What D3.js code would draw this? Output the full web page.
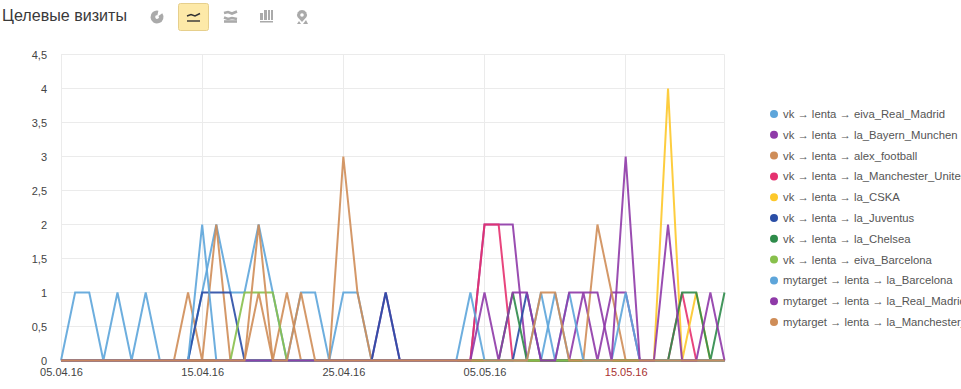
<!DOCTYPE html>
<html>
<head>
<meta charset="utf-8">
<script src="https://cdn.jsdelivr.net/npm/d3@7"></script>
<style>
html, body { margin: 0; padding: 0; background: #fff; overflow: hidden; }
svg { display: block; font-family: "Liberation Sans", Arial, sans-serif; }
</style>
</head>
<body>
<svg width="961" height="389"></svg>
<script>
var days = ["05.04.16","06.04.16","07.04.16","08.04.16","09.04.16","10.04.16","11.04.16","12.04.16","13.04.16","14.04.16",
  "15.04.16","16.04.16","17.04.16","18.04.16","19.04.16","20.04.16","21.04.16","22.04.16","23.04.16","24.04.16",
  "25.04.16","26.04.16","27.04.16","28.04.16","29.04.16","30.04.16","01.05.16","02.05.16","03.05.16","04.05.16",
  "05.05.16","06.05.16","07.05.16","08.05.16","09.05.16","10.05.16","11.05.16","12.05.16","13.05.16","14.05.16",
  "15.05.16","16.05.16","17.05.16","18.05.16","19.05.16","20.05.16","21.05.16","22.05.16"];

var xTicks = ["05.04.16","15.04.16","25.04.16","05.05.16","15.05.16"];
var yTicks = [0,0.5,1,1.5,2,2.5,3,3.5,4,4.5];

var vkEivaReal     = [0,1,1,0,1,0,1,0,0,0, 1,2,1,1,2,1,0,1,1,0, 1,1,0,0,0,0,0,0,0,0, 0,0,0,0,0,1,0,0,0,0, 0,0,0,0,0,0,0,0];
var vkBayern       = [0,0,0,0,0,0,0,0,0,0, 0,0,0,0,0,0,0,0,0,0, 0,0,0,1,0,0,0,0,0,0, 2,2,2,0,0,0,0,1,0,1, 1,0,0,0,0,0,0,0];
var vkAlex         = [0,0,0,0,0,0,0,0,0,1, 0,2,0,0,1,0,1,0,0,0, 3,1,0,0,0,0,0,0,0,0, 0,0,0,0,0,0,0,0,2,1, 0,0,0,0,0,0,0,0];
var vkManUtd       = [0,0,0,0,0,0,0,0,0,0, 0,0,0,0,0,0,0,0,0,0, 0,0,0,0,0,0,0,0,0,0, 2,2,0,0,0,0,0,0,0,0, 0,0,0,0,1,0,0,0];
var vkCska         = [0,0,0,0,0,0,0,0,0,0, 0,0,0,0,0,0,0,0,0,0, 0,0,0,0,0,0,0,0,0,0, 0,0,0,0,0,0,0,0,0,0, 0,0,0,4,0,1,0,0];
var vkJuventus     = [0,0,0,0,0,0,0,0,0,0, 1,1,1,0,0,0,0,0,0,0, 0,0,0,1,0,0,0,0,0,0, 0,0,0,1,0,0,0,0,0,0, 0,0,0,0,0,0,0,0];
var vkChelsea      = [0,0,0,0,0,0,0,0,0,0, 0,0,0,0,0,0,0,0,0,0, 0,0,0,0,0,0,0,0,0,0, 0,0,1,0,0,0,0,0,0,0, 0,0,0,0,1,1,0,1];
var vkEivaBarca    = [0,0,0,0,0,0,0,0,0,0, 0,0,0,1,1,1,0,0,0,0, 0,0,0,0,0,0,0,0,0,0, 0,0,0,0,0,0,0,0,0,0, 0,0,0,0,0,0,0,0];
var myBarca        = [0,0,0,0,0,0,0,0,0,0, 2,0,0,0,0,0,0,0,0,0, 0,0,0,0,0,0,0,0,0,1, 0,0,0,0,1,0,1,0,0,0, 1,0,0,0,0,0,0,0];
var myReal         = [0,0,0,0,0,0,0,0,0,0, 0,0,0,0,0,0,0,0,0,0, 0,0,0,0,0,0,0,0,0,0, 1,0,1,1,0,0,1,1,1,0, 3,0,0,2,0,0,1,0];
var myManchester   = [0,0,0,0,0,0,0,0,0,0, 0,0,0,0,2,0,0,1,0,0, 0,0,0,0,0,0,0,0,0,0, 0,0,0,0,1,1,0,0,0,0, 0,0,0,0,0,0,0,0];

var seriesNames = [
  "vk → lenta → eiva_Real_Madrid",
  "vk → lenta → la_Bayern_Munchen",
  "vk → lenta → alex_football",
  "vk → lenta → la_Manchester_United",
  "vk → lenta → la_CSKA",
  "vk → lenta → la_Juventus",
  "vk → lenta → la_Chelsea",
  "vk → lenta → eiva_Barcelona",
  "mytarget → lenta → la_Barcelona",
  "mytarget → lenta → la_Real_Madrid",
  "mytarget → lenta → la_Manchester_United"
];
var seriesValues = [vkEivaReal, vkBayern, vkAlex, vkManUtd, vkCska, vkJuventus, vkChelsea, vkEivaBarca, myBarca, myReal, myManchester];
var seriesColors = ["#5da5da","#8f3aa8","#cf8d58","#e5316f","#fdc82a","#2a4ea6","#2e8b4a","#88c04c","#5da5da","#8f3aa8","#cf8d58"];

var svg = d3.select("svg");

var x = d3.scalePoint().domain(days).range([61, 724.5]);
var y = d3.scaleLinear().domain([0, 4.5]).range([360.5, 54.5]);

// grid
var grid = svg.append("g").attr("stroke", "#ebebeb").attr("stroke-width", 1);
grid.selectAll(".h").data(yTicks).enter().append("line")
    .attr("x1", 61).attr("x2", 724.5)
    .attr("y1", function(d) { return Math.floor(y(d)) + 0.5; })
    .attr("y2", function(d) { return Math.floor(y(d)) + 0.5; });
grid.selectAll(".v").data(xTicks.concat([days[days.length - 1]])).enter().append("line")
    .attr("x1", function(d) { return Math.floor(x(d)) + 0.5; })
    .attr("x2", function(d) { return Math.floor(x(d)) + 0.5; })
    .attr("y1", 54.5).attr("y2", 360.5);

// axes
var yAxis = svg.append("g")
    .attr("transform", "translate(47,0)")
    .call(d3.axisLeft(y).tickValues(yTicks).tickSize(0).tickPadding(0)
      .tickFormat(function(d) { return String(d).replace(".", ","); }));
yAxis.select(".domain").remove();
yAxis.selectAll("text").attr("fill", "#444").attr("font-size", 11).attr("font-family", "Liberation Sans");

var xAxis = svg.append("g")
    .attr("transform", "translate(0,360)")
    .call(d3.axisBottom(x).tickValues(xTicks).tickSize(0).tickPadding(8));
xAxis.select(".domain").remove();
xAxis.selectAll("text")
    .attr("fill", function(d) { return d == "15.05.16" ? "#a83232" : "#444"; })
    .attr("font-size", 11).attr("font-family", "Liberation Sans");

// lines
var line = d3.line()
    .x(function(d, i) { return x(days[i]); })
    .y(function(d) { return y(d); });

svg.append("g").selectAll("path").data(seriesValues).enter().append("path")
    .attr("fill", "none")
    .attr("stroke", function(d, i) { return seriesColors[i]; })
    .attr("stroke-width", 2)
    .attr("stroke-opacity", 0.9)
    .attr("stroke-linejoin", "miter")
    .attr("d", line);

// legend, long names run off the right edge as in the original
var legend = svg.append("g").selectAll("g").data(seriesNames).enter().append("g")
    .attr("transform", function(d, i) { return "translate(774," + (114 + i * 20.8) + ")"; });
legend.append("circle").attr("r", 4)
    .attr("fill", function(d, i) { return seriesColors[i]; });
legend.append("text")
    .attr("x", 9).attr("dy", "0.35em")
    .attr("font-size", 11.3).attr("fill", "#555")
    .text(function(d) { return d; });

// header
svg.append("text").attr("x", 2).attr("y", 21)
    .attr("font-size", 16.1).attr("fill", "#3a3a3a")
    .attr("font-family", "Liberation Sans")
    .text("Целевые визиты");

svg.append("rect").attr("x", 178.5).attr("y", 3.5).attr("width", 30).attr("height", 27).attr("rx", 2)
    .attr("fill", "#fde9a8").attr("stroke", "#e6cf8c");

var icons = svg.append("g").attr("fill", "#aaa").attr("stroke", "none");
// pie
icons.append("path").attr("transform", "translate(157,17)")
    .attr("d", d3.arc().innerRadius(1.8).outerRadius(6.5).startAngle(0.95).endAngle(6.5)());
// line (selected)
var lineIcon = svg.append("g").attr("fill", "none").attr("stroke", "#333").attr("stroke-width", 1.4);
lineIcon.append("path").attr("d", "M187,16l4,-1.5l4,1.5l5,-2.5");
lineIcon.append("path").attr("d", "M187,21h13");
// stacked
var stackIcon = svg.append("g").attr("fill", "none").attr("stroke", "#aaa").attr("stroke-width", 2.6);
stackIcon.append("path").attr("d", "M224,13l4,-1l4,1.5l5,-2");
stackIcon.append("path").attr("d", "M224,17.5l4,1.5l4,-1l5,1");
stackIcon.append("path").attr("d", "M224,21.5h13");
// bars
[[260,13,3,7],[264,10,3,10],[268,10,2,10],[271,10,2,10],[260,21,13,1.5]].forEach(function(b) {
  icons.append("rect").attr("x", b[0]).attr("y", b[1]).attr("width", b[2]).attr("height", b[3]);
});
// map pin
icons.append("path").attr("d", "M302,10a5,5 0 0 1 4.5,7l-4.5,5l-4.5,-5a5,5 0 0 1 4.5,-7z");
icons.append("circle").attr("cx", 302).attr("cy", 15).attr("r", 1.8).attr("fill", "#fff");
icons.append("path").attr("d", "M297,24l2,-3l2,3zM303,24l3,-4l2,4z");
</script>
</body>
</html>
